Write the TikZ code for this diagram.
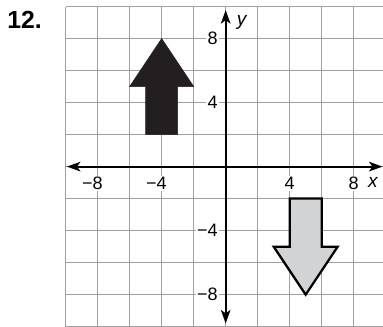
\documentclass[tikz,border=0pt]{standalone}
\usepackage{fontspec}
\setmainfont{Liberation Sans}
\usetikzlibrary{arrows.meta}
\definecolor{gridgray}{RGB}{160,160,160}
\definecolor{darkfill}{RGB}{35,31,32}
\definecolor{lightfill}{RGB}{209,211,212}
\begin{document}
\begin{tikzpicture}[x=0.5cm,y=0.5cm,
  gridline/.style={draw=gridgray, line width=0.9pt},
  axisline/.style={line width=1.7pt,
    {Stealth[length=12pt,width=8.5pt,inset=3pt]}-{Stealth[length=12pt,width=8.5pt,inset=3pt]}},
  ticklab/.style={fill=white, inner sep=1pt, font=\fontsize{16}{18}\selectfont},
  varlab/.style={inner sep=0pt, font=\fontsize{17}{19}\selectfont\itshape},
  darkarrow/.style={fill=darkfill, draw=darkfill, line width=0.5pt},
  lightarrow/.style={fill=lightfill, draw=black, line width=2pt},
  numlab/.style={inner sep=0pt, anchor=west, font=\fontsize{22}{24}\selectfont\bfseries}
]
\useasboundingbox (-14.1,-9.97) rectangle (9.83,10.41);
% grid
\draw[gridline] (-10,-10) grid[step=2] (10,10);
% shapes
\draw[darkarrow] (-4,8) -- (-2,5) -- (-3,5) -- (-3,2) -- (-5,2) -- (-5,5) -- (-6,5) -- cycle;
\draw[lightarrow] (5,-8) -- (7,-5) -- (6,-5) -- (6,-2) -- (4,-2) -- (4,-5) -- (3,-5) -- cycle;
% tick labels
\node[ticklab] (xm8) at (-8,-1.06) {−8\phantom{−}};
\node[ticklab] (xm4) at (-4,-1.06) {−4\phantom{−}};
\node[ticklab] (xp4) at (4,-1.06) {4};
\node[ticklab] (xp8) at (8,-1.06) {8};
\node[ticklab, anchor=east] (yp8) at (-0.42,8) {8};
\node[ticklab, anchor=east] (yp4) at (-0.42,4) {4};
\node[ticklab, anchor=east] (ym4) at (-0.42,-4) {−4};
\node[ticklab, anchor=east] (ym8) at (-0.42,-8) {−8};
% axes
\coordinate (xl) at (-9.92,0);
\coordinate (xr) at (9.8,0);
\coordinate (yb) at (0,-9.8);
\coordinate (yt) at (0,9.78);
\draw[axisline] (xl) -- (xr);
\draw[axisline] (yb) -- (yt);
% axis names
\node[varlab] (xname) at (9.2,-1.02) {x};
\node[varlab] (yname) at (1.0,9.0) {y};
% problem number
\node[numlab] (num) at (-13.65,9.19) {12.};
\end{tikzpicture}
\end{document}
